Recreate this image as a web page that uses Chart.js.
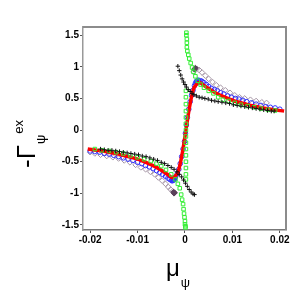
<!DOCTYPE html>
<html>
<head>
<meta charset="utf-8">
<script src="https://cdn.jsdelivr.net/npm/chart.js@4"></script>
<style>
  html, body { margin: 0; padding: 0; background: #fff; }
  #wrap { width: 296px; height: 296px; position: relative; }
</style>
</head>
<body>
<div id="wrap"><canvas id="chart"></canvas></div>
<script>
// axis ticks
const xTicks = [-0.02, -0.01, 0, 0.01, 0.02];
const xTickLabels = ['-0.02', '-0.01', '0', '0.01', '0.02'];
const yTicks = [-1.5, -1, -0.5, 0, 0.5, 1, 1.5];
const yTickLabels = ['-1.5', '-1', '-0.5', '0', '0.5', '1', '1.5'];

// red solid curve
const redX = [-0.0205, -0.018, -0.016, -0.014, -0.012, -0.010, -0.008, -0.006, -0.0045, -0.0035, -0.0028, -0.0021, -0.0014, -0.0006, 0.0002,
  0.0010, 0.0018, 0.0025, 0.0032, 0.0039, 0.0049, 0.0064, 0.0084, 0.0104, 0.0124, 0.0144, 0.0164, 0.0184, 0.0209];
const redY = [-0.30, -0.325, -0.35, -0.38, -0.42, -0.46, -0.52, -0.59, -0.66, -0.71, -0.75, -0.73, -0.65, -0.38, 0,
  0.38, 0.65, 0.73, 0.75, 0.71, 0.66, 0.59, 0.52, 0.46, 0.42, 0.38, 0.35, 0.325, 0.30];

// blue open circles
const blueX = [-0.0200, -0.0190, -0.0180, -0.0170, -0.0160, -0.0150, -0.0140, -0.0130, -0.0120, -0.0110, -0.0100, -0.0091, -0.0083, -0.0075, -0.0067, -0.0060, -0.0053, -0.0047, -0.0041, -0.0036, -0.0032,
  -0.0028, -0.0027, -0.0026, -0.0025, -0.0024, -0.0023, -0.0022, -0.0020,
  -0.0016, -0.0013, -0.0010, -0.0007, -0.0004, -0.0001, 0.0001, 0.0003, 0.0005, 0.0008, 0.0011, 0.0014, 0.0017, 0.0020,
  0.0022, 0.0024, 0.0025, 0.0026, 0.0027, 0.0028, 0.0029, 0.0031,
  0.0033, 0.0036, 0.0040, 0.0045, 0.0050, 0.0056, 0.0062, 0.0068, 0.0075, 0.0082, 0.0090, 0.0098, 0.0106, 0.0114, 0.0122, 0.0130, 0.0140, 0.0150, 0.0160, 0.0170, 0.0180, 0.0190, 0.0200];
const blueY = [-0.33, -0.34, -0.35, -0.37, -0.38, -0.40, -0.42, -0.44, -0.46, -0.48, -0.51, -0.53, -0.56, -0.58, -0.61, -0.64, -0.67, -0.70, -0.73, -0.76, -0.78,
  -0.80, -0.78, -0.80, -0.76, -0.79, -0.78, -0.77, -0.74,
  -0.69, -0.62, -0.53, -0.42, -0.30, -0.18, -0.05, 0.08, 0.20, 0.33, 0.45, 0.55, 0.63, 0.70,
  0.74, 0.77, 0.75, 0.78, 0.76, 0.79, 0.77, 0.76,
  0.78, 0.77, 0.75, 0.72, 0.69, 0.66, 0.64, 0.62, 0.59, 0.57, 0.54, 0.52, 0.50, 0.49, 0.47, 0.45, 0.43, 0.41, 0.39, 0.37, 0.36, 0.35, 0.33];

// gray open diamonds
const grayX = [-0.0200, -0.0190, -0.0178, -0.0165, -0.0152, -0.0140, -0.0128, -0.0116, -0.0104, -0.0093, -0.0083, -0.0073, -0.0064, -0.0056, -0.0048, -0.0041, -0.0035, -0.0030, -0.0026,
  0.0018, 0.0021, 0.0025, 0.0030, 0.0036, 0.0043, 0.0050, 0.0058, 0.0066, 0.0075, 0.0085, 0.0095, 0.0105, 0.0115, 0.0126, 0.0138, 0.0150, 0.0162, 0.0172];
const grayY = [-0.35, -0.37, -0.39, -0.41, -0.43, -0.45, -0.48, -0.51, -0.55, -0.59, -0.62, -0.66, -0.70, -0.75, -0.80, -0.85, -0.90, -0.94, -0.97,
  0.92, 0.97, 0.97, 0.95, 0.91, 0.86, 0.81, 0.76, 0.71, 0.67, 0.63, 0.59, 0.55, 0.52, 0.50, 0.48, 0.46, 0.44, 0.43];
// dense dark ends of the diamond curve
const darkX = [-0.0024, -0.0023, -0.0022, 0.0020, 0.0022];
const darkY = [-0.98, -1.00, -0.99, 0.96, 0.98];

// black crosses
const blackX = [-0.0015, -0.0012, -0.0009, -0.0006, -0.0003, 0.0000, 0.0003, 0.0007, 0.0011, 0.0015, 0.0019, 0.0024, 0.0030, 0.0036, 0.0042, 0.0049, 0.0056, 0.0063, 0.0070, 0.0078, 0.0086, 0.0094, 0.0102, 0.0110, 0.0118, 0.0126, 0.0134, 0.0142, 0.0150, 0.0158, 0.0166, 0.0174, 0.0182, 0.0188,
  -0.0178, -0.0170, -0.0162, -0.0154, -0.0146, -0.0138, -0.0130, -0.0122, -0.0114, -0.0106, -0.0098, -0.0090, -0.0082, -0.0074, -0.0066, -0.0058, -0.0050, -0.0043, -0.0036, -0.0029, -0.0023, -0.0017, -0.0012, -0.0007, -0.0003, 0.0001, 0.0005, 0.0009, 0.0013, 0.0017, 0.0020];
const blackY = [1.01, 0.94, 0.87, 0.81, 0.76, 0.72, 0.68, 0.64, 0.61, 0.58, 0.56, 0.54, 0.52, 0.51, 0.50, 0.49, 0.47, 0.46, 0.45, 0.44, 0.43, 0.42, 0.40, 0.39, 0.38, 0.37, 0.36, 0.35, 0.34, 0.33, 0.32, 0.31, 0.30, 0.30,
  -0.30, -0.31, -0.32, -0.32, -0.33, -0.34, -0.35, -0.36, -0.37, -0.38, -0.39, -0.41, -0.42, -0.44, -0.46, -0.48, -0.51, -0.53, -0.56, -0.59, -0.62, -0.66, -0.70, -0.74, -0.79, -0.84, -0.89, -0.94, -0.98, -1.01, -1.02];

// green open squares
const greenX = [0.0003, 0.0003, 0.0004, 0.0004, 0.0004, 0.0005, 0.0007, 0.0009, 0.0012, 0.0015, 0.0018, 0.0022, 0.0027, 0.0033,
  0.0040, 0.0050, 0.0060, 0.0070, 0.0080, 0.0092, 0.0105, 0.0118, 0.0132, 0.0146, 0.0160, 0.0175, 0.0190,
  0.0002, 0.0002, 0.0002, 0.0002, 0.0002, 0.0002, 0.0002, 0.0002, 0.0002, 0.0002, 0.0002, 0.0002, 0.0002, 0.0002, 0.0002,
  -0.0190, -0.0175, -0.0160, -0.0145, -0.0130, -0.0115, -0.0100, -0.0086, -0.0072, -0.0060, -0.0050, -0.0040, -0.0029,
  -0.0020, -0.0015, -0.0011, -0.0008, -0.0006, -0.0004, -0.0003, -0.0002, -0.0001, 0.0000, 0.0000, 0.0001, 0.0001];
const greenY = [1.54, 1.50, 1.44, 1.38, 1.31, 1.25, 1.19, 1.13, 1.06, 0.99, 0.92, 0.85, 0.78, 0.72,
  0.67, 0.62, 0.58, 0.52, 0.48, 0.46, 0.43, 0.40, 0.38, 0.36, 0.34, 0.32, 0.31,
  0.62, 0.52, 0.41, 0.30, 0.20, 0.10, 0.00, -0.10, -0.20, -0.30, -0.40, -0.50, -0.60, -0.70, -0.78,
  -0.30, -0.32, -0.33, -0.35, -0.37, -0.40, -0.43, -0.46, -0.49, -0.53, -0.57, -0.63, -0.70,
  -0.78, -0.85, -0.92, -1.02, -1.10, -1.17, -1.25, -1.32, -1.38, -1.44, -1.49, -1.52, -1.54];

function pts(xs, ys) {
  return xs.map((x, i) => ({ x: x, y: ys[i] }));
}

const tickFont = { family: "'Liberation Sans Narrow', 'Liberation Sans', Arial, sans-serif", size: 10, weight: 'bold' };
const titleFamily = "'Liberation Sans', Arial, sans-serif";

// frame round the plot area plus axis titles with sub/superscripts
const framePlugin = {
  id: 'frame',
  afterDraw(chart) {
    const ctx = chart.ctx;
    const a = chart.chartArea;
    ctx.save();
    ctx.strokeStyle = '#8c8c8c';
    ctx.lineWidth = 2;
    ctx.beginPath();
    ctx.moveTo(a.left, a.top);
    ctx.lineTo(a.right, a.top);
    ctx.lineTo(a.right, a.bottom);
    ctx.stroke();

    ctx.fillStyle = '#000';
    ctx.textBaseline = 'alphabetic';
    ctx.textAlign = 'left';
    // y title, rotated
    ctx.save();
    ctx.translate(35, 168);
    ctx.rotate(-Math.PI / 2);
    ctx.font = '26px ' + titleFamily;
    ctx.fillText('-Γ', 0, 0);
    const w = ctx.measureText('-Γ').width;
    ctx.font = '13px ' + titleFamily;
    ctx.fillText('ψ', w + 1, 10);
    const w2 = ctx.measureText('ψ').width;
    ctx.fillText('ex', w + w2 + 2, -12);
    ctx.restore();

    // x title
    ctx.font = '24px ' + titleFamily;
    ctx.fillText('μ', 166, 276);
    const mw = ctx.measureText('μ').width;
    ctx.font = '13px ' + titleFamily;
    ctx.fillText('ψ', 166 + mw + 1, 287);
    ctx.restore();
  }
};

new Chart(document.getElementById('chart'), {
  type: 'scatter',
  data: {
    datasets: [
      { label: 'diamonds', data: pts(grayX, grayY), pointStyle: 'rectRot', pointRadius: 2.8, borderColor: '#a595a5', backgroundColor: 'rgba(0,0,0,0)', borderWidth: 1, order: 6 },
      { label: 'dense', data: pts(darkX, darkY), pointStyle: 'rectRot', pointRadius: 2.8, borderColor: '#5a405a', backgroundColor: '#5a405a', borderWidth: 1, order: 5 },
      { label: 'circles', data: pts(blueX, blueY), pointStyle: 'circle', pointRadius: 2.3, borderColor: '#3030ff', backgroundColor: 'rgba(0,0,0,0)', borderWidth: 1, order: 4 },
      { label: 'line', data: pts(redX, redY), showLine: true, pointRadius: 0, borderColor: '#ff0000', borderWidth: 3.5, tension: 0.3, order: 3 },
      { label: 'squares', data: pts(greenX, greenY), pointStyle: 'rect', pointRadius: 2.5, borderColor: '#33ee33', backgroundColor: 'rgba(0,0,0,0)', borderWidth: 1, order: 2 },
      { label: 'crosses', data: pts(blackX, blackY), pointStyle: 'cross', pointRadius: 2.2, borderColor: '#111', borderWidth: 1, order: 1 },
    ],
  },
  options: {
    responsive: true,
    maintainAspectRatio: false,
    animation: false,
    events: [],
    layout: { padding: { left: 0, top: 27, right: 10, bottom: 42 } },
    plugins: { legend: { display: false }, tooltip: { enabled: false } },
    scales: {
      x: {
        type: 'linear',
        min: -0.0215,
        max: 0.0213,
        afterBuildTicks: (s) => { s.ticks = xTicks.map((v) => ({ value: v })); },
        afterFit: (s) => { s.height = 24; },
        ticks: {
          color: '#000',
          font: tickFont,
          padding: 1,
          maxRotation: 0,
          callback: (v) => { const i = xTicks.indexOf(v); return i >= 0 ? xTickLabels[i] : ''; },
        },
        grid: { display: true, drawOnChartArea: false, drawTicks: true, tickLength: 3, color: '#555' },
        border: { color: '#777', width: 1.5 },
      },
      y: {
        type: 'linear',
        min: -1.58,
        max: 1.63,
        afterBuildTicks: (s) => { s.ticks = yTicks.map((v) => ({ value: v })); },
        afterFit: (s) => { s.width = 83; },
        ticks: {
          color: '#000',
          font: tickFont,
          padding: 1,
          callback: (v) => { const i = yTicks.indexOf(v); return i >= 0 ? yTickLabels[i] : ''; },
        },
        grid: { display: true, drawOnChartArea: false, drawTicks: true, tickLength: 3, color: '#555' },
        border: { color: '#999', width: 1.5 },
      },
    },
  },
  plugins: [framePlugin],
});
</script>
</body>
</html>
